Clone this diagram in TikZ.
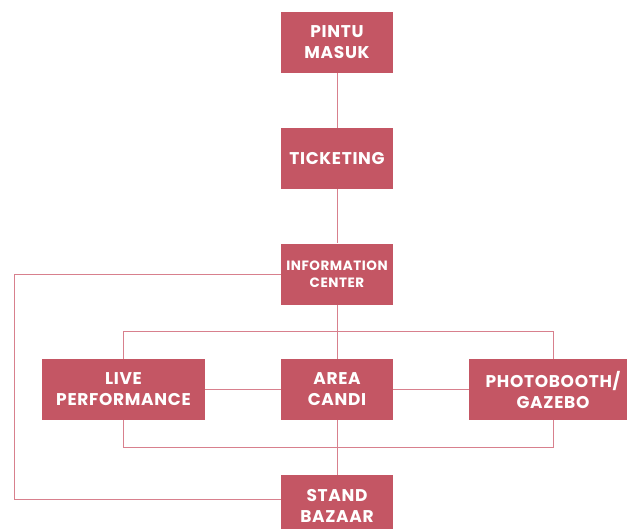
\documentclass[tikz,border=0pt]{standalone}
\usepackage{fontspec}
\setmainfont{Poppins}[LetterSpace=4]
\definecolor{boxfill}{HTML}{C45664}
\definecolor{linecol}{HTML}{D8808D}
\begin{document}
\begin{tikzpicture}[x=1pt,y=-1pt,
  box/.style={fill=boxfill,draw=none,text=white,font=\fontsize{17}{21}\selectfont\bfseries,align=center,inner sep=0pt,minimum height=61pt,minimum width=112pt},
  small/.style={font=\fontsize{13.5}{17}\selectfont\bfseries},
  conn/.style={draw=linecol,line width=1pt}]
\useasboundingbox (0,0) rectangle (627,528);
\clip (0,0) rectangle (627,528);
\node[box] (pintu) at (337,42.5) {PINTU\\MASUK};
\node[box] (ticket) at (337,158.5) {TICKETING};
\node[box,small] (info) at (337,274) {INFORMATION\\CENTER};
\node[box,minimum width=163pt] (live) at (123.5,389.5) {LIVE\\PERFORMANCE};
\node[box] (candi) at (337,389.5) {AREA\\CANDI};
\node[box,minimum width=168pt] (photo) at (553,389.5) {PHOTOBOOTH/\\GAZEBO};
\node[box] (stand) at (337,505.5) {STAND\\BAZAAR};
\coordinate (lt) at (14,274);
\coordinate (lb) at (14,499);
\draw[conn] (pintu) -- (ticket);
\draw[conn] (ticket) -- (info);
\draw[conn] (info) -- (candi);
\draw[conn] (candi) -- (stand);
\draw[conn] (live) -- (candi);
\draw[conn] (candi) -- (photo);
\draw[conn] (live.north) -- ++(0,-27) -| (photo.north);
\draw[conn] (live.south) -- ++(0,27) -| (photo.south);
\draw[conn] (info.west) -- (lt) -- (lb) -- (lb -| stand.west);
\end{tikzpicture}
\end{document}
